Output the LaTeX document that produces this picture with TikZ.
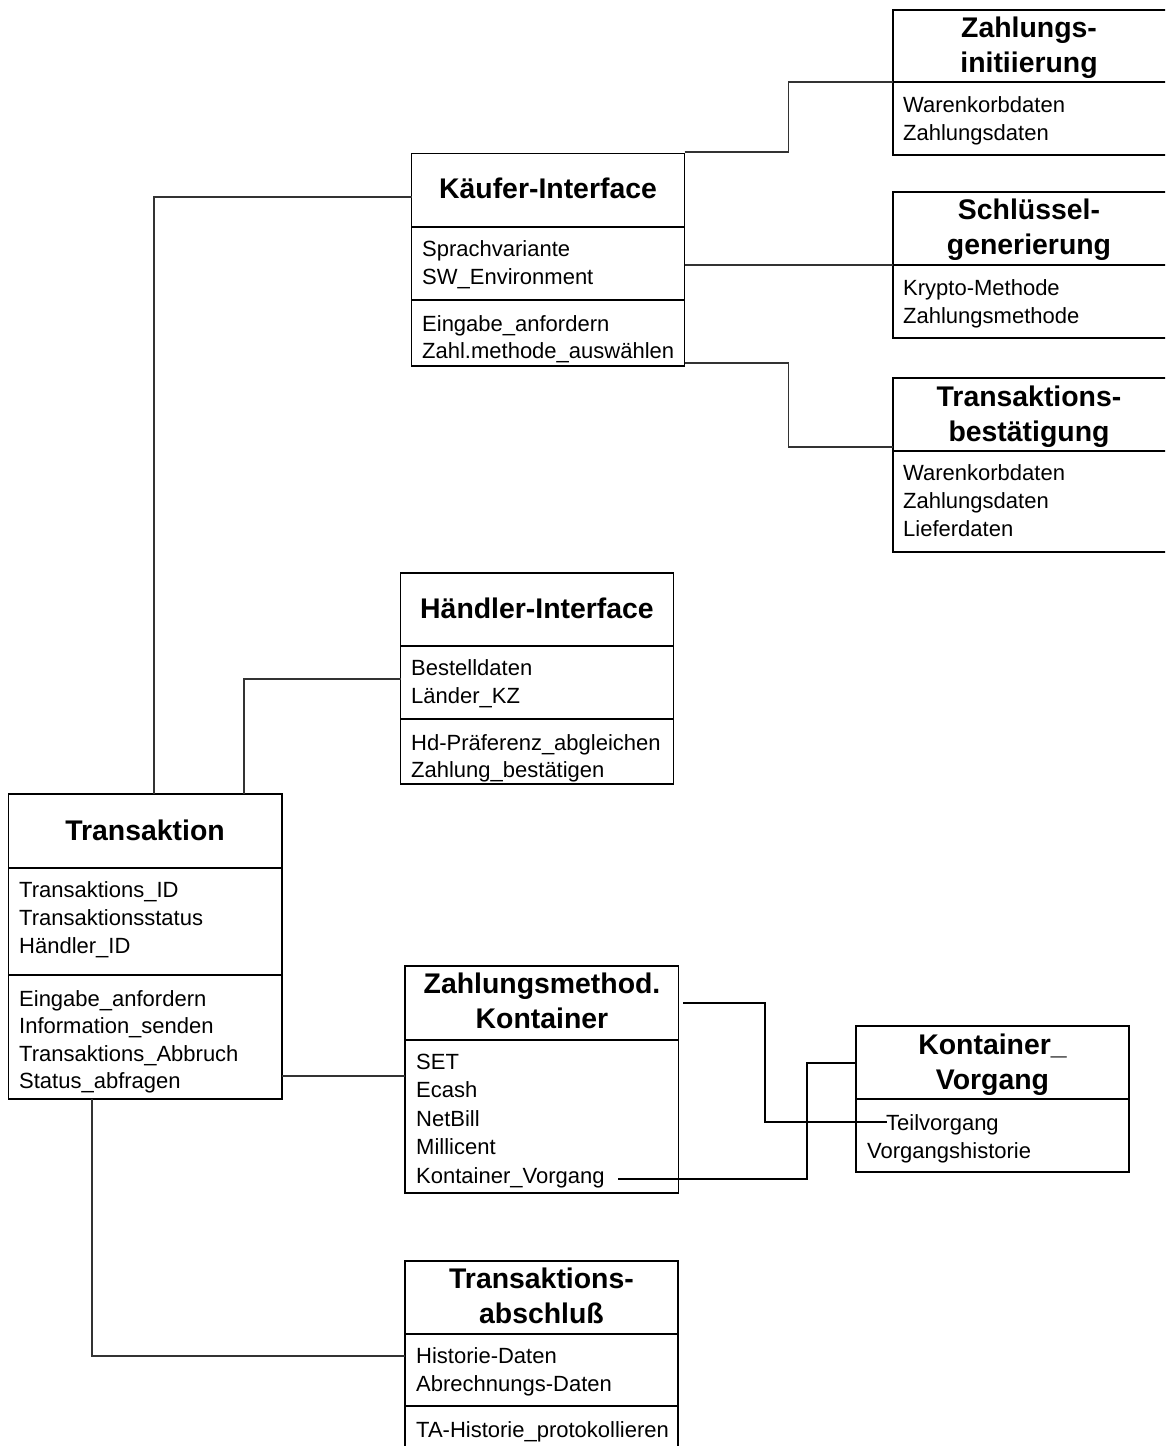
\documentclass[tikz,border=0pt]{standalone}
\usepackage{fontspec}
\setmainfont{Liberation Sans}
% one line of a compartment list: name prefix, x, first baseline, line step, items
\newcommand\itemlines[5]{%
  \foreach \t [count=\i] in {#5} {%
    \node[txt] (#1-\i) at (#2, {#3+(\i-1)*#4}) {\t};}}
% title lines, centred: name prefix, x, first baseline, items
\newcommand\titlelines[4]{%
  \foreach \t [count=\i] in {#4} {%
    \node[ttl] (#1-\i) at (#2, {#3+(\i-1)*35}) {\t};}}
\begin{document}
\begin{tikzpicture}[x=1pt,y=-1pt,
  box/.style={draw, line width=1.8pt, inner sep=0pt, outer sep=0pt, anchor=north west},
  sep/.style={line width=1.8pt},
  link/.style={line width=1.1pt, draw=black!80},
  heavylink/.style={line width=1.8pt},
  txt/.style={anchor=base west, inner sep=0pt, font=\fontsize{22}{26}\selectfont},
  ttl/.style={anchor=base, inner sep=0pt, font=\fontsize{28.4}{34}\selectfont\bfseries}]
\useasboundingbox (0,0) rectangle (1165,1446);
\clip (0,0) rectangle (1165,1446);

% ---------- class boxes ----------
\node[box, minimum width=273pt, minimum height=212.5pt] (kf) at (411.5,153.5) {};
\draw[sep] (411.5,227) -- (684.5,227);
\draw[sep] (411.5,300) -- (684.5,300);
\titlelines{kft}{548}{198}{Käufer-Interface}
\itemlines{kfa}{422}{256}{28}{Sprachvariante,SW\_Environment}
\itemlines{kfm}{422}{331}{27.5}{Eingabe\_anfordern,Zahl.methode\_auswählen}

\node[box, minimum width=280pt, minimum height=145pt] (zi) at (893,10) {};
\draw[sep] (893,82) -- (1173,82);
\titlelines{zit}{1029}{37}{Zahlungs-,initiierung}
\itemlines{zia}{903}{112}{28}{Warenkorbdaten,Zahlungsdaten}

\node[box, minimum width=280pt, minimum height=146pt] (sg) at (893,192) {};
\draw[sep] (893,265) -- (1173,265);
\titlelines{sgt}{1029}{219}{Schlüssel-,generierung}
\itemlines{sga}{903}{295}{28}{Krypto-Methode,Zahlungsmethode}

\node[box, minimum width=280pt, minimum height=174pt] (tb) at (893,378) {};
\draw[sep] (893,451) -- (1173,451);
\titlelines{tbt}{1029}{406}{Transaktions-,bestätigung}
\itemlines{tba}{903}{480}{28}{Warenkorbdaten,Zahlungsdaten,Lieferdaten}

\node[box, minimum width=273pt, minimum height=211pt] (hi) at (400.5,573) {};
\draw[sep] (400.5,646) -- (673.5,646);
\draw[sep] (400.5,719) -- (673.5,719);
\titlelines{hit}{537}{618}{Händler-Interface}
\itemlines{hia}{411}{675}{28}{Bestelldaten,Länder\_KZ}
\itemlines{him}{411}{750}{27.5}{Hd-Präferenz\_abgleichen,Zahlung\_bestätigen}

\node[box, minimum width=273.5pt, minimum height=305pt] (ta) at (8.5,794) {};
\draw[sep] (8.5,868) -- (282,868);
\draw[sep] (8.5,975) -- (282,975);
\titlelines{tat}{145}{840}{Transaktion}
\itemlines{taa}{19}{897}{28}{Transaktions\_ID,Transaktionsstatus,Händler\_ID}
\itemlines{tam}{19}{1006}{27.5}{Eingabe\_anfordern,Information\_senden,Transaktions\_Abbruch,Status\_abfragen}

\node[box, minimum width=273.5pt, minimum height=227pt] (zm) at (405,966) {};
\draw[sep] (405,1040) -- (678.5,1040);
\titlelines{zmt}{542}{993}{Zahlungsmethod.,Kontainer}
\itemlines{zma}{416}{1069}{28.5}{SET,Ecash,NetBill,Millicent,Kontainer\_Vorgang}

\node[box, minimum width=273pt, minimum height=146pt] (kv) at (856,1026) {};
\draw[sep] (856,1099) -- (1129,1099);
\titlelines{kvt}{992.5}{1054}{Kontainer\_,Vorgang}
\node[txt] (kva-1) at (886,1130) {Teilvorgang};
\node[txt] (kva-2) at (867,1158) {Vorgangshistorie};

\node[box, minimum width=273pt, minimum height=220pt] (tx) at (405,1261) {};
\draw[sep] (405,1334) -- (678,1334);
\draw[sep] (405,1406) -- (678,1406);
\titlelines{txt}{541.5}{1288}{Transaktions-,abschluß}
\itemlines{txa}{416}{1363}{28}{Historie-Daten,Abrechnungs-Daten}
\itemlines{txm}{416}{1437}{28}{TA-Historie\_protokollieren}

% ---------- connector end points on the boxes ----------
\coordinate (kf-w)  at (411.5,197);
\coordinate (kf-ne) at (684.5,152);
\coordinate (kf-e)  at (684.5,265);
\coordinate (kf-se) at (684.5,363);
\coordinate (zi-w)  at (893,82);
\coordinate (sg-w)  at (893,265);
\coordinate (tb-w)  at (893,447);
\coordinate (hi-w)  at (400.5,679);
\coordinate (ta-n1) at (154,794);
\coordinate (ta-n2) at (244,794);
\coordinate (ta-e)  at (282,1076);
\coordinate (ta-s)  at (92,1099);
\coordinate (zm-w)  at (405,1076);
\coordinate (zm-e)  at (683,1003);
\coordinate (zm-kv) at (618,1179);
\coordinate (tx-w)  at (405,1356);
\coordinate (kv-w)  at (856,1063);
\coordinate (kv-tv) at (887,1122);

% ---------- connectors ----------
\draw[link] (kf-w) -| (ta-n1);
\draw[link] (hi-w) -| (ta-n2);
\draw[link] (kf-ne) -- ++(104,0) |- (zi-w);
\draw[link] (kf-e) -- (sg-w);
\draw[link] (kf-se) -- ++(104,0) |- (tb-w);
\draw[link] (ta-e) -- (zm-w);
\draw[link] (ta-s) |- (tx-w);
\draw[heavylink] (zm-e) -- ++(82,0) |- (kv-tv);
\draw[heavylink] (zm-kv) -- ++(189,0) |- (kv-w);
\end{tikzpicture}
\end{document}
